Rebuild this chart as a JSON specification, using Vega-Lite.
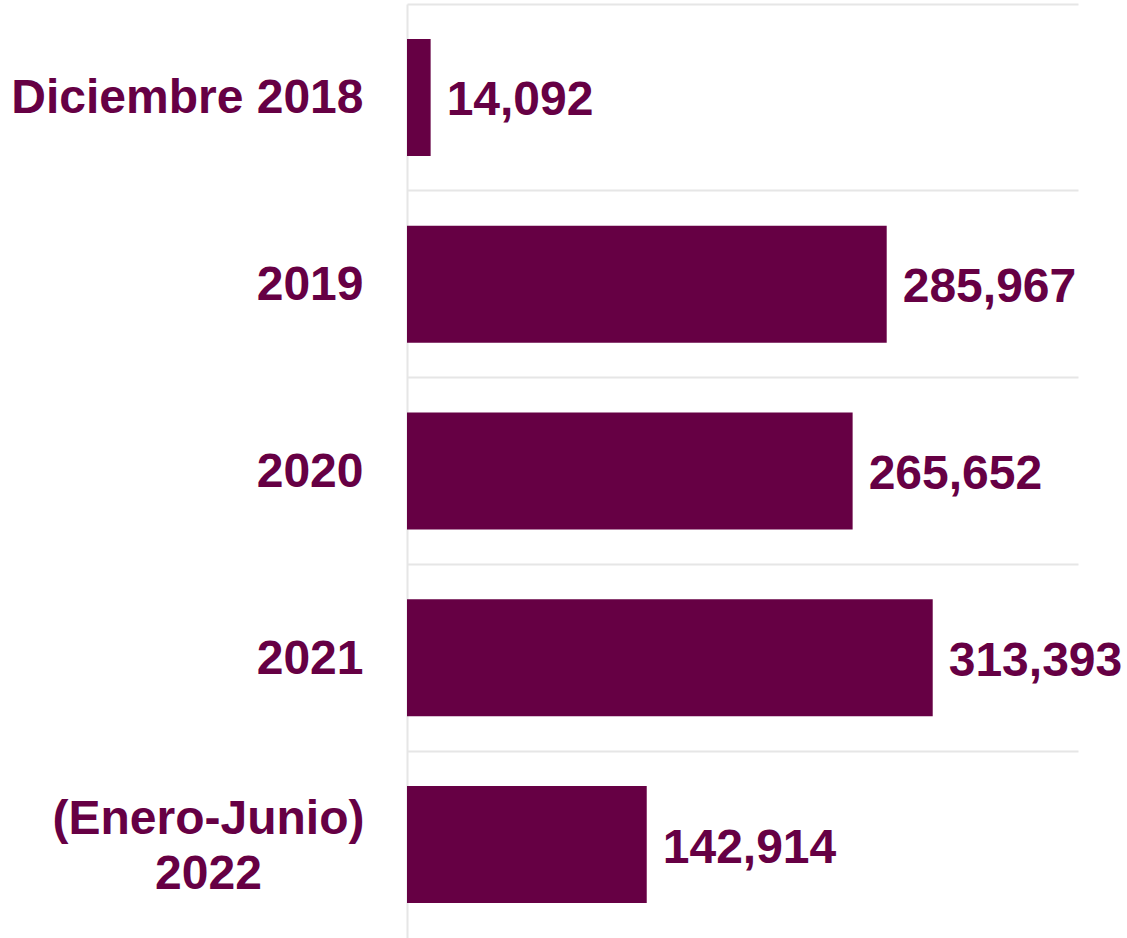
{
  "$schema": "https://vega.github.io/schema/vega-lite/v6.json",
  "width": 671,
  "height": 934,
  "autosize": {"type": "none"},
  "padding": {"left": 407, "top": 4, "right": 49, "bottom": 0},
  "background": "white",
  "config": {"view": {"stroke": null}, "font": "Liberation Sans"},
  "data": {
    "values": [
      {"periodo": "Diciembre 2018", "valor": 14092},
      {"periodo": "2019", "valor": 285967},
      {"periodo": "2020", "valor": 265652},
      {"periodo": "2021", "valor": 313393},
      {"periodo": "(Enero-Junio)|2022", "valor": 142914}
    ]
  },
  "encoding": {
    "y": {
      "field": "periodo",
      "type": "nominal",
      "sort": null,
      "scale": {"paddingInner": 0, "paddingOuter": 0},
      "axis": {
        "title": null,
        "ticks": false,
        "tickSize": 0,
        "grid": true,
        "gridColor": "#e6e6e6",
        "gridWidth": 2,
        "bandPosition": 0,
        "domain": true,
        "domainColor": "#e6e6e6",
        "domainWidth": 2,
        "labelExpr": "split(datum.label, '|')",
        "labelFont": "Liberation Sans",
        "labelFontSize": 48,
        "labelFontWeight": "bold",
        "labelColor": "#660044",
        "labelLineHeight": 55,
        "labelLimit": 500,
        "labelAlign": {"condition": {"test": "indexof(datum.value, '2022') >= 0", "value": "center"}, "value": "right"},
        "labelPadding": {"condition": {"test": "indexof(datum.value, '2022') >= 0", "value": 199}, "value": 44},
        "labelOffset": {"condition": {"test": "indexof(datum.value, '2022') >= 0", "value": -25}, "value": 2}
      }
    },
    "x": {
      "field": "valor",
      "type": "quantitative",
      "scale": {"domain": [0, 400000]},
      "axis": null
    }
  },
  "layer": [
    {"mark": {"type": "bar", "color": "#660044", "size": 117}},
    {
      "mark": {
        "type": "text",
        "align": "left",
        "baseline": "middle",
        "dx": 16,
        "dy": 4,
        "font": "Liberation Sans",
        "fontSize": 48,
        "fontWeight": "bold",
        "color": "#660044"
      },
      "encoding": {"text": {"field": "valor", "type": "quantitative", "format": ",d"}}
    }
  ]
}
